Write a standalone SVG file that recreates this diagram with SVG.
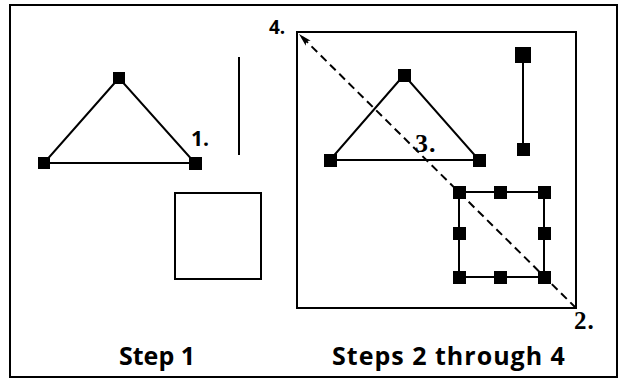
<svg xmlns="http://www.w3.org/2000/svg" width="622" height="379" viewBox="0 0 622 379">
<style>
.ln{stroke:#000;stroke-width:2;fill:none}
.h{fill:#000}
.sans{font-family:"Open Sans",Lato,"Liberation Sans",sans-serif;font-weight:bold;fill:#000}
.serif{font-family:"Liberation Serif",serif;font-weight:bold;fill:#000}
</style>
<defs>
<marker id="ah" markerWidth="14" markerHeight="10" refX="13" refY="5" orient="auto" markerUnits="userSpaceOnUse">
<path d="M0,1.5 L13,5 L0,8.5 L3,5 Z" fill="#000"/>
</marker>
</defs>
<rect width="622" height="379" fill="#fff"/>
<rect id="frame" x="10" y="5" width="607" height="372" class="ln"/>
<g id="step1">
<g id="tri1">
<polygon points="119,78 44,163 195,163" class="ln"/>
<rect x="113" y="72" width="12" height="12" class="h"/>
<rect x="38" y="157" width="12" height="12" class="h"/>
<rect x="189" y="157" width="13" height="13" class="h"/>
</g>
<line id="vline1" x1="239" y1="57" x2="239" y2="155" class="ln"/>
<rect id="sq1" x="175" y="193" width="86" height="86" class="ln"/>
<text x="191" y="146" class="sans" font-size="21">1.</text>
<text x="157" y="365" class="sans" font-size="25" text-anchor="middle">Step 1</text>
</g>
<g id="steps2to4">
<rect id="selbox" x="297" y="32" width="279" height="276" class="ln"/>
<g id="tri2">
<polygon points="404,75 330,160 479,160" class="ln"/>
<rect x="398" y="69" width="13" height="13" class="h"/>
<rect x="324" y="154" width="13" height="13" class="h"/>
<rect x="473" y="154" width="13" height="13" class="h"/>
</g>
<g id="vline2">
<line x1="523" y1="55" x2="523" y2="149" class="ln"/>
<rect x="515" y="47" width="16" height="16" class="h"/>
<rect x="517" y="143" width="13" height="13" class="h"/>
</g>
<g id="sq2">
<rect x="459" y="192" width="85" height="85" class="ln"/>
<rect x="453" y="186" width="13" height="13" class="h"/>
<rect x="494" y="186" width="13" height="13" class="h"/>
<rect x="538" y="186" width="13" height="13" class="h"/>
<rect x="453" y="227" width="13" height="13" class="h"/>
<rect x="538" y="227" width="13" height="13" class="h"/>
<rect x="453" y="271" width="13" height="13" class="h"/>
<rect x="494" y="271" width="13" height="13" class="h"/>
<rect x="538" y="271" width="13" height="13" class="h"/>
</g>
<text x="269" y="34" class="sans" font-size="19">4.</text>
<text x="415" y="152" class="serif" font-size="26" letter-spacing="1">3.</text>
<text x="574" y="329" class="serif" font-size="25" letter-spacing="1">2.</text>
<text x="449" y="365" class="sans" font-size="25" letter-spacing="1" text-anchor="middle">Steps 2 through 4</text>
</g>
<g id="connectors">
<line x1="576" y1="308" x2="299" y2="34" stroke="#000" stroke-width="2" stroke-dasharray="8,5" marker-end="url(#ah)"/>
</g>
</svg>
